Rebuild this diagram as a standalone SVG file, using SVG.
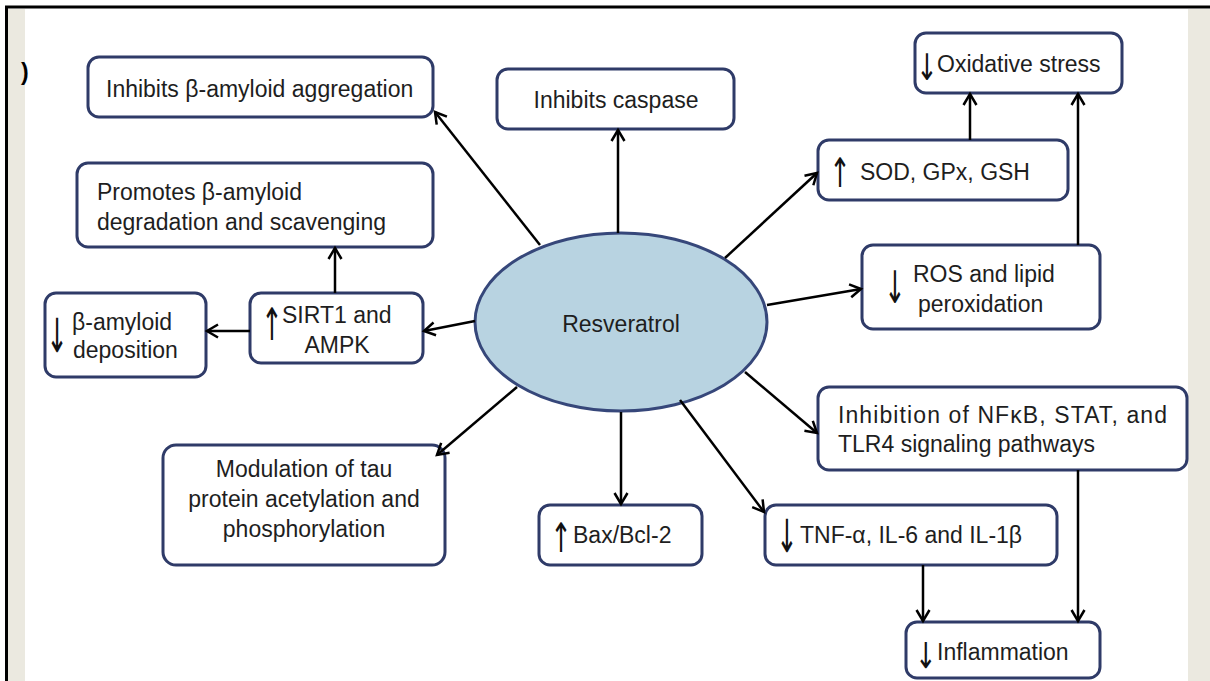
<svg xmlns="http://www.w3.org/2000/svg" width="1210" height="681" viewBox="0 0 1210 681">
<style>
.box{fill:#ffffff;stroke:#2f3b68;stroke-width:3}
.t{font-family:"Liberation Sans",Arial,sans-serif;font-size:23px;fill:#1e1e1e}
.ar{font-family:"DejaVu Sans",sans-serif;font-size:34px;fill:#111;text-anchor:middle}
.c{stroke:#000;stroke-width:2.5;fill:none;marker-end:url(#h)}
</style>
<defs>
<marker id="h" markerUnits="userSpaceOnUse" markerWidth="16" markerHeight="16" refX="13" refY="8" orient="auto" overflow="visible">
<path d="M2,1.5 L13,8 L2,14.5" fill="none" stroke="#000" stroke-width="2.5"/>
</marker>
</defs>
<rect x="0" y="0" width="1210" height="681" fill="#ffffff"/>
<rect x="8" y="9" width="17" height="672" fill="#ebe9e0"/>
<rect x="1188" y="9" width="22" height="672" fill="#ebe9e0"/>
<line x1="5" y1="7" x2="1210" y2="7" stroke="#000" stroke-width="3"/>
<line x1="6.5" y1="6" x2="6.5" y2="681" stroke="#000" stroke-width="3"/>
<text x="21" y="80" class="t" style="fill:#000;font-weight:bold">)</text>

<g id="resveratrol">
<ellipse cx="621" cy="322" rx="146" ry="89" fill="#b8d3e1" stroke="#36477a" stroke-width="3"/>
<text x="621" y="332" class="t" text-anchor="middle">Resveratrol</text>
</g>

<g id="aggregation">
<rect class="box" x="88" y="57" width="345" height="60" rx="11"/>
<text x="106" y="97" class="t">Inhibits β-amyloid aggregation</text>
</g>

<g id="promotes">
<rect class="box" x="77" y="163" width="356" height="84" rx="11"/>
<text x="97" y="200" class="t">Promotes β-amyloid</text>
<text x="97" y="230" class="t">degradation and scavenging</text>
</g>

<g id="caspase">
<rect class="box" x="497" y="69" width="237" height="60" rx="11"/>
<text x="616" y="108" class="t" text-anchor="middle">Inhibits caspase</text>
</g>

<g id="oxidative">
<rect class="box" x="915" y="33" width="207" height="60" rx="11"/>
<text class="ar" transform="translate(927,80) scale(0.75,1.08)">↓</text>
<text x="937" y="72" class="t">Oxidative stress</text>
</g>

<g id="sod">
<rect class="box" x="818" y="140" width="250" height="60" rx="11"/>
<text class="ar" transform="translate(840,187) scale(0.75,1.2)">↑</text>
<text x="860" y="180" class="t">SOD, GPx, GSH</text>
</g>

<g id="ros">
<rect class="box" x="862" y="245" width="238" height="84" rx="11"/>
<text class="ar" transform="translate(895,303) scale(0.75,1.32)">↓</text>
<text x="913" y="282" class="t">ROS and lipid</text>
<text x="918" y="312" class="t">peroxidation</text>
</g>

<g id="nfkb">
<rect class="box" x="818" y="387" width="369" height="83" rx="11"/>
<text x="838" y="423" class="t" textLength="329" lengthAdjust="spacing">Inhibition of NFκB, STAT, and</text>
<text x="838" y="452" class="t">TLR4 signaling pathways</text>
</g>

<g id="tnf">
<rect class="box" x="765" y="505" width="292" height="60" rx="11"/>
<text class="ar" transform="translate(787,552) scale(0.75,1.34)">↓</text>
<text x="800" y="543" class="t">TNF-α, IL-6 and IL-1β</text>
</g>

<g id="inflammation">
<rect class="box" x="906" y="622" width="194" height="56" rx="11"/>
<text class="ar" transform="translate(926,668) scale(0.75,1.05)">↓</text>
<text x="937" y="660" class="t">Inflammation</text>
</g>

<g id="bax">
<rect class="box" x="539" y="505" width="163" height="60" rx="11"/>
<text class="ar" transform="translate(561,552) scale(0.75,1.2)">↑</text>
<text x="573" y="543" class="t">Bax/Bcl-2</text>
</g>

<g id="tau">
<rect class="box" x="163" y="445" width="282" height="120" rx="13"/>
<text x="304" y="477" class="t" text-anchor="middle">Modulation of tau</text>
<text x="304" y="507" class="t" text-anchor="middle">protein acetylation and</text>
<text x="304" y="537" class="t" text-anchor="middle">phosphorylation</text>
</g>

<g id="deposition">
<rect class="box" x="45" y="293" width="161" height="84" rx="11"/>
<text class="ar" transform="translate(57,352) scale(0.75,1.38)">↓</text>
<text x="72" y="330" class="t">β-amyloid</text>
<text x="73" y="358" class="t">deposition</text>
</g>

<g id="sirt1">
<rect class="box" x="250" y="293" width="173" height="70" rx="11"/>
<text class="ar" transform="translate(272,340) scale(0.75,1.32)">↑</text>
<text x="282" y="323" class="t">SIRT1 and</text>
<text x="337" y="353" class="t" text-anchor="middle">AMPK</text>
</g>

<g id="connectors">
<line class="c" x1="540" y1="245" x2="435" y2="112"/>
<line class="c" x1="618" y1="233" x2="618" y2="130"/>
<line class="c" x1="725" y1="258" x2="817" y2="173"/>
<line class="c" x1="970" y1="140" x2="970" y2="94"/>
<line class="c" x1="1078" y1="245" x2="1078" y2="94"/>
<line class="c" x1="767" y1="305" x2="861" y2="289"/>
<line class="c" x1="745" y1="372" x2="817" y2="433"/>
<line class="c" x1="1078" y1="470" x2="1078" y2="621"/>
<line class="c" x1="680" y1="400" x2="764" y2="512"/>
<line class="c" x1="923" y1="565" x2="923" y2="621"/>
<line class="c" x1="621" y1="412" x2="621" y2="504"/>
<line class="c" x1="517" y1="387" x2="437" y2="455"/>
<line class="c" x1="475" y1="321" x2="424" y2="331"/>
<line class="c" x1="250" y1="331" x2="207" y2="331"/>
<line class="c" x1="335" y1="293" x2="335" y2="248"/>
</g>
</svg>
